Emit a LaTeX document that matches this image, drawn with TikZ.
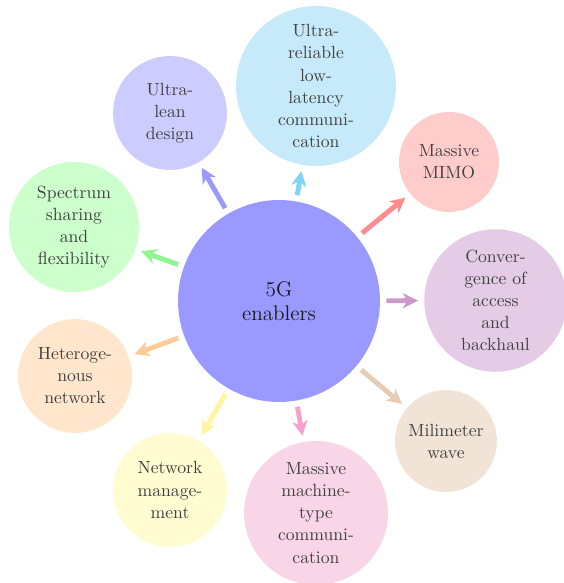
\documentclass[tikz,border=0pt]{standalone}
\usetikzlibrary{arrows.meta}
\definecolor{cCenter}{RGB}{153,153,255}
\definecolor{cLeanF}{RGB}{204,204,255}
\definecolor{cLeanA}{RGB}{153,153,255}
\definecolor{cUrlF}{RGB}{198,234,250}
\definecolor{cUrlA}{RGB}{128,212,245}
\definecolor{cMimoF}{RGB}{255,204,204}
\definecolor{cMimoA}{RGB}{255,140,140}
\definecolor{cConvF}{RGB}{228,204,230}
\definecolor{cConvA}{RGB}{204,153,204}
\definecolor{cMmF}{RGB}{241,228,214}
\definecolor{cMmA}{RGB}{230,204,179}
\definecolor{cMtcF}{RGB}{249,213,232}
\definecolor{cMtcA}{RGB}{245,163,206}
\definecolor{cNetF}{RGB}{255,252,210}
\definecolor{cNetA}{RGB}{255,245,160}
\definecolor{cHetF}{RGB}{255,230,204}
\definecolor{cHetA}{RGB}{255,204,153}
\definecolor{cSpecF}{RGB}{204,255,204}
\definecolor{cSpecA}{RGB}{143,245,143}
\tikzset{
  bubble/.style={circle, fill=#1, draw=none, inner sep=0pt, align=center,
    text=black!75, font=\fontsize{10}{12.5}\selectfont},
  hub/.style={circle, fill=cCenter, draw=none, inner sep=0pt, align=center,
    text=black!90, font=\large, minimum size=114.5pt},
  link/.style={draw=#1, line width=2.8pt,
    -{Stealth[length=8.5pt,width=8.5pt,inset=2.5pt]},
    shorten <=3.4pt, shorten >=3.4pt}
}
\begin{document}
\begin{tikzpicture}[x=0.567pt,y=-0.567pt]
\useasboundingbox (0,0) rectangle (564,583);
\node[hub] (c) at (279,301) {5G\\enablers};
\node[bubble=cLeanF, minimum size=64.6pt] (lean) at (170,113) {Ultra-\\lean\\design};
\node[bubble=cUrlF, minimum size=90.7pt] (url) at (316,86) {Ultra-\\reliable\\low-\\latency\\communi-\\cation};
\node[bubble=cMimoF, minimum size=56.7pt] (mimo) at (449,162) {Massive\\MIMO};
\node[bubble=cConvF, minimum size=80.8pt] (conv) at (495.5,300.5) {Conver-\\gence of\\access\\and\\backhaul};
\node[bubble=cMmF, minimum size=57.8pt] (mm) at (446,441) {Milimeter\\wave};
\node[bubble=cMtcF, minimum size=81.6pt] (mtc) at (316,513) {Massive\\machine-\\type\\communi-\\cation};
\node[bubble=cNetF, minimum size=64.6pt] (net) at (170,490) {Network\\manage-\\ment};
\node[bubble=cHetF, minimum size=64.6pt] (het) at (75,376) {Heteroge-\\nous\\network};
\node[bubble=cSpecF, minimum size=73.7pt] (spec) at (74,227) {Spectrum\\sharing\\and\\flexibility};
\draw[link=cLeanA] (c) -- (lean);
\draw[link=cUrlA] (c) -- (url);
\draw[link=cMimoA] (c) -- (mimo);
\draw[link=cConvA] (c) -- (conv);
\draw[link=cMmA] (c) -- (mm);
\draw[link=cMtcA] (c) -- (mtc);
\draw[link=cNetA] (c) -- (net);
\draw[link=cHetA] (c) -- (het);
\draw[link=cSpecA] (c) -- (spec);
\end{tikzpicture}
\end{document}
